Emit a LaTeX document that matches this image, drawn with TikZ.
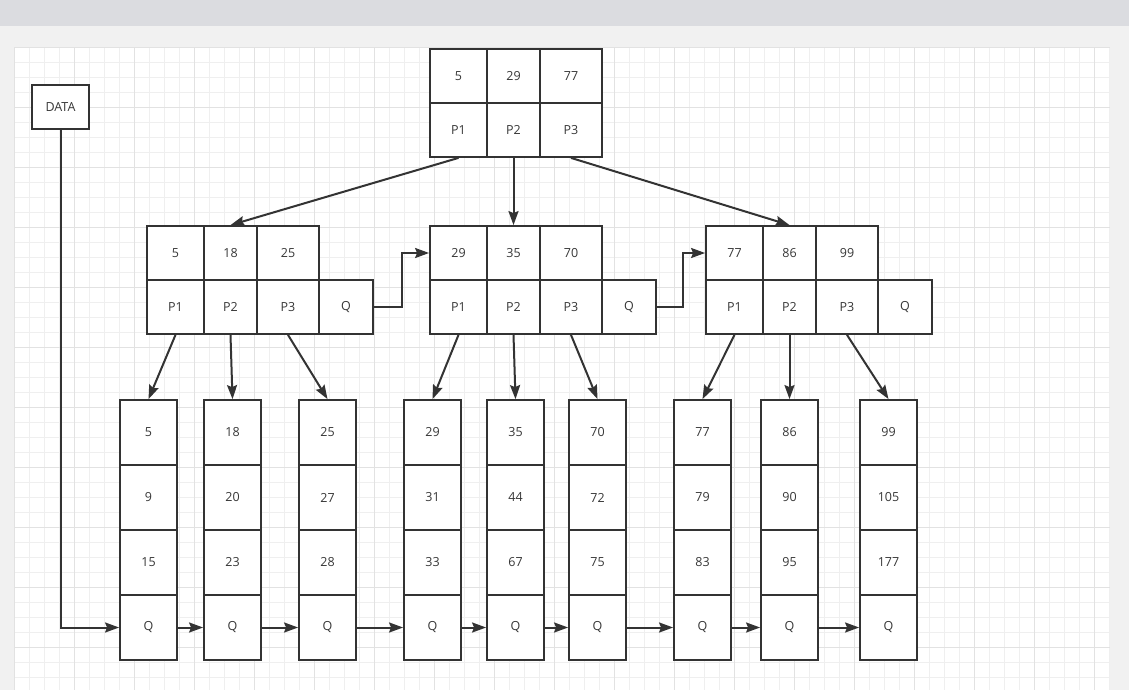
\documentclass[tikz,border=0pt]{standalone}
\usepackage{fontspec}
\setmainfont{Open Sans}
\usetikzlibrary{arrows.meta,positioning}

\begin{document}
\begin{tikzpicture}[x=1pt,y=-1pt,>={Stealth[length=14pt,width=10pt,inset=2pt]},
  cell/.style={draw=linegray,line width=1.8pt,fill=white,inner sep=0pt,minimum width=#1,minimum height=54,font=\fontsize{12.5}{14}\selectfont,text=textgray},
  cell/.default=57,
  leaf/.style={cell=57,minimum height=65},
  flow/.style={->,line width=2pt,draw=linegray},
  gridline/.style={draw=gridminor,line width=.8pt},
  majorline/.style={draw=gridmajor,line width=.8pt}]
\definecolor{linegray}{RGB}{51,51,51}
\definecolor{textgray}{RGB}{55,55,55}
\definecolor{topband}{RGB}{219,220,224}
\definecolor{outer}{RGB}{241,241,241}
\definecolor{gridminor}{RGB}{239,239,239}
\definecolor{gridmajor}{RGB}{226,226,226}
\useasboundingbox (0,0) rectangle (1129,690);
% page and grid
\fill[outer] (0,0) rectangle (1129,690);
\fill[topband] (0,0) rectangle (1129,26.5);
\fill[white] (14.5,47.5) rectangle (1110,690);
\foreach \gx in {0,15,...,1095} \draw[gridline] (14.5+\gx,47.5) -- (14.5+\gx,690);
\foreach \gy in {0,15,...,630} \draw[gridline] (14.5,47.5+\gy) -- (1110,47.5+\gy);
\foreach \gx in {0,60,...,1095} \draw[majorline] (14.5+\gx,47.5) -- (14.5+\gx,690);
\foreach \gy in {0,60,...,630} \draw[majorline] (14.5,47.5+\gy) -- (1110,47.5+\gy);
% root
\node[cell] (r1) at (458.5,76) {5};
\node[cell=53] (r2) at (513.5,76) {29};
\node[cell=62] (r3) at (571,76) {77};
\node[cell] (rp1) at (458.5,130) {P1};
\node[cell=53] (rp2) at (513.5,130) {P2};
\node[cell=62] (rp3) at (571,130) {P3};
% inner nodes
\node[cell] (a1) at (175.5,253) {5};
\node[cell=53] (a2) at (230.5,253) {18};
\node[cell=62] (a3) at (288,253) {25};
\node[cell] (ap1) at (175.5,307) {P1};
\node[cell=53] (ap2) at (230.5,307) {P2};
\node[cell=62] (ap3) at (288,307) {P3};
\node[cell=54] (aq) at (346,307) {Q};
\node[cell] (b1) at (458.5,253) {29};
\node[cell=53] (b2) at (513.5,253) {35};
\node[cell=62] (b3) at (571,253) {70};
\node[cell] (bp1) at (458.5,307) {P1};
\node[cell=53] (bp2) at (513.5,307) {P2};
\node[cell=62] (bp3) at (571,307) {P3};
\node[cell=54] (bq) at (629,307) {Q};
\node[cell] (c1) at (734.5,253) {77};
\node[cell=53] (c2) at (789.5,253) {86};
\node[cell=62] (c3) at (847,253) {99};
\node[cell] (cp1) at (734.5,307) {P1};
\node[cell=53] (cp2) at (789.5,307) {P2};
\node[cell=62] (cp3) at (847,307) {P3};
\node[cell=54] (cq) at (905,307) {Q};
% leaves
\node[leaf] (l1a) at (148.5,432.5) {5}; \node[leaf] (l1b) at (148.5,497.5) {9}; \node[leaf] (l1c) at (148.5,562.5) {15}; \node[leaf] (l1q) at (148.5,627.5) {Q};
\node[leaf] (l2a) at (232.5,432.5) {18}; \node[leaf] (l2b) at (232.5,497.5) {20}; \node[leaf] (l2c) at (232.5,562.5) {23}; \node[leaf] (l2q) at (232.5,627.5) {Q};
\node[leaf] (l3a) at (327.5,432.5) {25}; \node[leaf] (l3b) at (327.5,497.5) {27}; \node[leaf] (l3c) at (327.5,562.5) {28}; \node[leaf] (l3q) at (327.5,627.5) {Q};
\node[leaf] (l4a) at (432.5,432.5) {29}; \node[leaf] (l4b) at (432.5,497.5) {31}; \node[leaf] (l4c) at (432.5,562.5) {33}; \node[leaf] (l4q) at (432.5,627.5) {Q};
\node[leaf] (l5a) at (515.5,432.5) {35}; \node[leaf] (l5b) at (515.5,497.5) {44}; \node[leaf] (l5c) at (515.5,562.5) {67}; \node[leaf] (l5q) at (515.5,627.5) {Q};
\node[leaf] (l6a) at (597.5,432.5) {70}; \node[leaf] (l6b) at (597.5,497.5) {72}; \node[leaf] (l6c) at (597.5,562.5) {75}; \node[leaf] (l6q) at (597.5,627.5) {Q};
\node[leaf] (l7a) at (702.5,432.5) {77}; \node[leaf] (l7b) at (702.5,497.5) {79}; \node[leaf] (l7c) at (702.5,562.5) {83}; \node[leaf] (l7q) at (702.5,627.5) {Q};
\node[leaf] (l8a) at (789.5,432.5) {86}; \node[leaf] (l8b) at (789.5,497.5) {90}; \node[leaf] (l8c) at (789.5,562.5) {95}; \node[leaf] (l8q) at (789.5,627.5) {Q};
\node[leaf] (l9a) at (888.5,432.5) {99}; \node[leaf] (l9b) at (888.5,497.5) {105}; \node[leaf] (l9c) at (888.5,562.5) {177}; \node[leaf] (l9q) at (888.5,627.5) {Q};
\node[cell,minimum height=44] (data) at (60.5,107) {DATA};
% pointers
\draw[flow] (rp1.south)--(a2.north); \draw[flow] (rp2.south)--(b2.north); \draw[flow] (rp3.south)--(c2.north);
\draw[flow] (ap1.south)--(l1a.north); \draw[flow] (ap2.south)--(l2a.north); \draw[flow] (ap3.south)--(l3a.north);
\draw[flow] (bp1.south)--(l4a.north); \draw[flow] (bp2.south)--(l5a.north); \draw[flow] (bp3.south)--(l6a.north);
\draw[flow] (cp1.south)--(l7a.north); \draw[flow] (cp2.south)--(l8a.north); \draw[flow] (cp3.south)--(l9a.north);
\draw[flow] (aq.east)--++(28,0)|-(b1.west);
\draw[flow] (bq.east)--++(26,0)|-(c1.west);
\draw[flow] (data.south)|-(l1q.west);
\draw[flow] (l1q)--(l2q); \draw[flow] (l2q)--(l3q); \draw[flow] (l3q)--(l4q); \draw[flow] (l4q)--(l5q);
\draw[flow] (l5q)--(l6q); \draw[flow] (l6q)--(l7q); \draw[flow] (l7q)--(l8q); \draw[flow] (l8q)--(l9q);
\end{tikzpicture}
\end{document}
